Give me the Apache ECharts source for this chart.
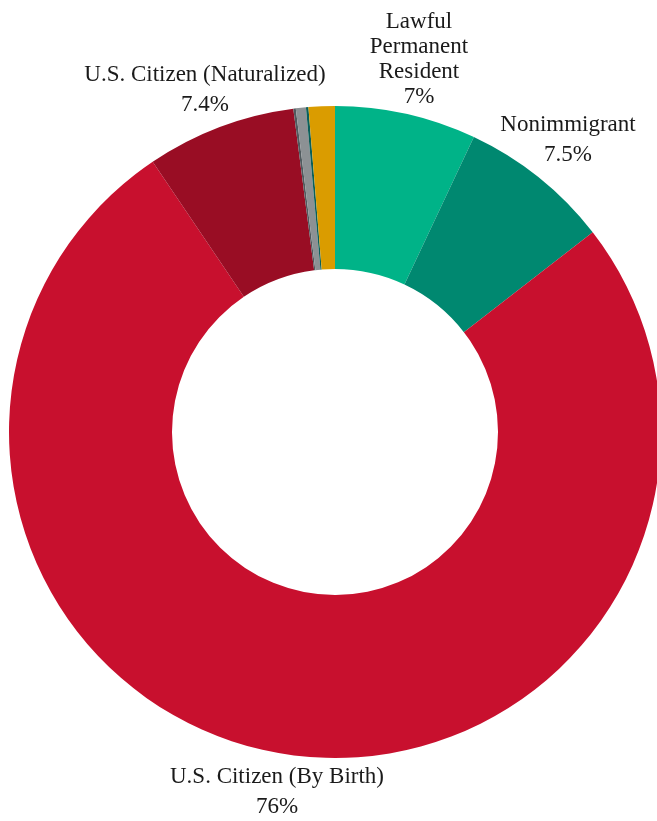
<!DOCTYPE html>
<html><head><meta charset="utf-8">
<script src="https://cdn.jsdelivr.net/npm/echarts@6/dist/echarts.min.js"></script>
<style>html,body{margin:0;padding:0;background:#fff}#c{width:657px;height:821px}</style>
</head><body><div id="c"></div>
<script>
const categories = ["Lawful\nPermanent\nResident", "Nonimmigrant", "U.S. Citizen (By Birth)", "U.S. Citizen (Naturalized)", "Other A", "Other B", "Other C", "Other D"];
const values = [7, 7.5, 76, 7.4, 0.12, 0.5, 0.12, 1.3];
const colors = ["#00B388", "#008870", "#C8102E", "#990D24", "#505A5E", "#8C9194", "#0A5F5A", "#DA9C00"];
const showLabel = [true, true, true, true, false, false, false, false];
const labelLineHeights = [25, 30, 30, 30, 30, 30, 30, 30];
const labelPos = {0: [419, 59], 1: [568, 140], 3: [205, 90], 2: [277, 792]};

const chart = echarts.init(document.getElementById('c'));
chart.setOption({
  animation: false,
  series: [{
    type: 'pie',
    center: [335, 432],
    radius: [163, 326],
    startAngle: 90,
    clockwise: true,
    avoidLabelOverlap: false,
    label: {
      show: true,
      position: 'outside',
      formatter: p => p.name + '\n' + p.value + '%',
      fontFamily: 'Liberation Serif, DejaVu Serif, serif',
      fontSize: 23,
      color: '#1a1a1a',
      align: 'center'
    },
    labelLine: { show: false },
    labelLayout: function (p) {
      const pos = labelPos[p.dataIndex];
      if (!pos) return {};
      return { x: pos[0], y: pos[1], align: 'center', verticalAlign: 'middle' };
    },
    data: categories.map((n, i) => ({
      name: n, value: values[i],
      itemStyle: { color: colors[i] },
      label: { show: showLabel[i], lineHeight: labelLineHeights[i] }
    }))
  }]
});
</script></body></html>
